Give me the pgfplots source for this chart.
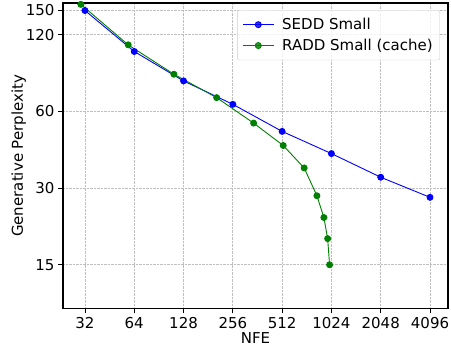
\documentclass[border=0pt]{standalone}
\usepackage{fontspec}
\setmainfont{DejaVu Sans}
\usepackage{pgfplots}
\pgfplotsset{compat=1.18}
\definecolor{mgreen}{RGB}{0,128,0}
\begin{document}
\begin{tikzpicture}
\begin{axis}[
  scale only axis, width=385pt, height=305.5pt,
  at={(0,0)}, anchor=south west,
  xmode=log, ymode=log, log basis x=2,
  xmin=23.5, xmax=5275, ymin=10.1, ymax=160,
  xtick={32,64,128,256,512,1024,2048,4096},
  xticklabels={32,64,128,256,512,1024,2048,4096},
  ytick={15,30,60,120,150},
  yticklabels={15,30,60,120,150},
  minor tick num=0, minor xtick={}, minor ytick={},
  tick align=outside, tick pos=left,
  major tick length=5pt,
  tick style={black, line width=0.9pt},
  axis line style={line width=1.1pt},
  grid=major,
  major grid style={densely dotted, color=black!25, line width=0.8pt},
  tick label style={font=\fontsize{15}{17}\selectfont},
  label style={font=\fontsize{15}{17}\selectfont},
  xlabel={NFE}, ylabel={Generative Perplexity},
  xlabel style={yshift=3pt},
  ylabel style={yshift=-7pt},
  legend style={at={(rel axis cs:0.979,0.977)}, anchor=north east,
    font=\fontsize{15}{17}\selectfont, draw=black!20, rounded corners=2pt,
    fill=white, fill opacity=0.8, text opacity=1,
    row sep=4pt, inner xsep=5pt, inner ysep=6pt,
    /tikz/every odd column/.append style={column sep=6pt}},
  legend cell align=left,
  legend image code/.code={
    \draw[#1] (0pt,0pt) -- (31pt,0pt);
    \draw[#1, only marks] plot coordinates {(15.5pt,0pt)};
  },
]
\addplot[blue, line width=0.9pt, mark=*, mark size=3pt] coordinates {
  (32,149.5) (64,103.2) (128,79.1) (256,64.0) (512,50.1) (1024,41.0) (2048,33.1) (4096,27.6)
};
\addlegendentry{SEDD Small}
\addplot[mgreen, line width=0.9pt, mark=*, mark size=3pt] coordinates {
  (30.2,158) (58.8,109.6) (111.8,84.0) (203.9,68.0) (343,54.0) (520,44.1) (698,36.0) (835,28.0) (921,23.0) (971,19.0) (998,15.0)
};
\addlegendentry{RADD Small (cache)}
\end{axis}
\pgfresetboundingbox
\useasboundingbox (-63pt,-40.5pt) rectangle (388pt,308.5pt);
\end{tikzpicture}
\end{document}
